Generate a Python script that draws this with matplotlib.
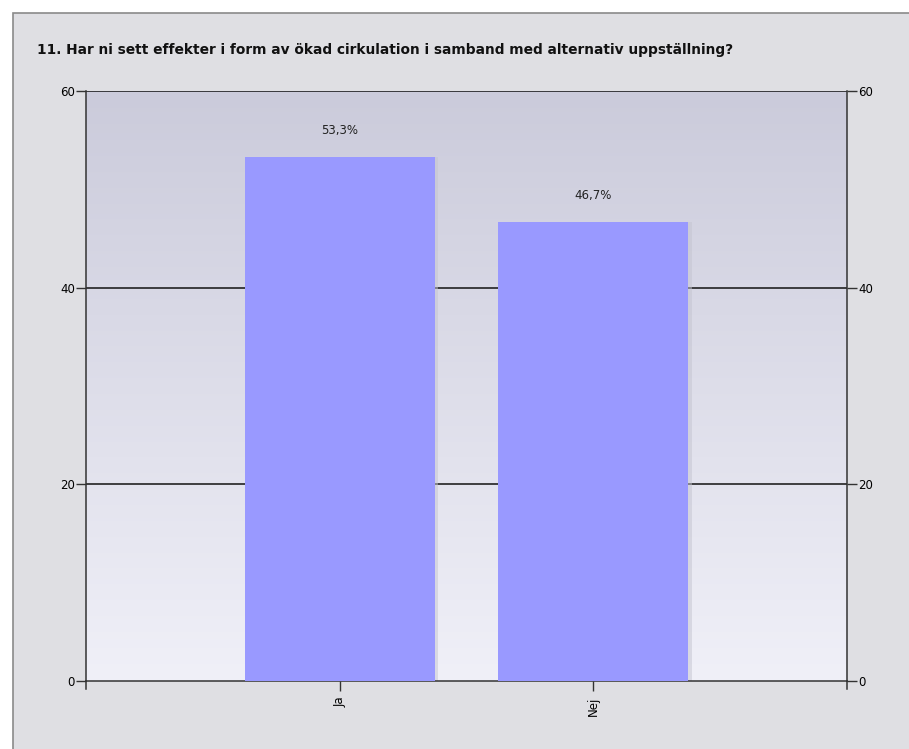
import numpy as np
import matplotlib
matplotlib.use("Agg")
import matplotlib.pyplot as plt
from matplotlib.patches import Rectangle
from matplotlib.colors import LinearSegmentedColormap

title = "11. Har ni sett effekter i form av ökad cirkulation i samband med alternativ uppställning?"
categories = ["Ja", "Nej"]
values = [53.3, 46.7]
labels = ["53,3%", "46,7%"]
yticks = [0, 20, 40, 60]

fig = plt.figure(figsize=(9.09, 7.49), dpi=100)
fig.patch.set_facecolor("white")

# grey panel with border
fig.patches.append(Rectangle((13 / 909, -0.01), 1.0, 1 - 13 / 749 + 0.01,
                             transform=fig.transFigure, facecolor="#dfdfe3",
                             edgecolor="#8a8a8a", linewidth=1.2, zorder=-10))

fig.text(37 / 909, 1 - 50 / 749, title, fontsize=9.9, fontweight="bold",
         family="DejaVu Sans", va="center", ha="left", color="#111111")

ax = fig.add_axes([86 / 909, 1 - 681 / 749, (847 - 86) / 909, (681 - 91) / 749])
ax.set_xlim(0, 3)
ax.set_ylim(0, 60)

# background gradient
grad = LinearSegmentedColormap.from_list("bg", ["#f0f0f8", "#cbcbdb"])
ax.imshow(np.linspace(0, 1, 256).reshape(-1, 1), aspect="auto", cmap=grad,
          extent=[0, 3, 0, 60], origin="lower", zorder=0)

for y in yticks[1:]:
    ax.axhline(y, color="#111111", linewidth=1.1, zorder=1)

x = np.arange(1, len(categories) + 1)
# soft shadow on the right edge
ax.bar(x + 0.014, values, width=0.75, color="#c4c4d0", alpha=0.5, zorder=2)
ax.bar(x, values, width=0.75, color="#9999ff", zorder=3)
for xi, v, lab in zip(x, values, labels):
    ax.annotate(lab, (xi, v), xytext=(0, 14), textcoords="offset points",
                ha="center", va="bottom", fontsize=8.5, color="#222222")

ax.set_xticks(x)
ax.set_xticklabels(categories, rotation=90, fontsize=8.5, va="top")
ax.set_yticks(yticks)
ax.tick_params(axis="y", which="both", left=True, right=True, labelleft=True,
               labelright=True, length=7, width=1, color="#333333",
               labelsize=8.5, pad=1)
ax.tick_params(axis="x", length=7, width=1, color="#333333", pad=4)

ax.spines["top"].set_visible(False)
for s in ["left", "right", "bottom"]:
    ax.spines[s].set_color("#333333")
    ax.spines[s].set_linewidth(1.1)
# spines extend a bit below zero
ax.plot([0, 0], [0, -0.013], transform=ax.transAxes, color="#333333",
        linewidth=1.1, clip_on=False)
ax.plot([1, 1], [0, -0.013], transform=ax.transAxes, color="#333333",
        linewidth=1.1, clip_on=False)

fig.savefig("out.png", dpi=100)
